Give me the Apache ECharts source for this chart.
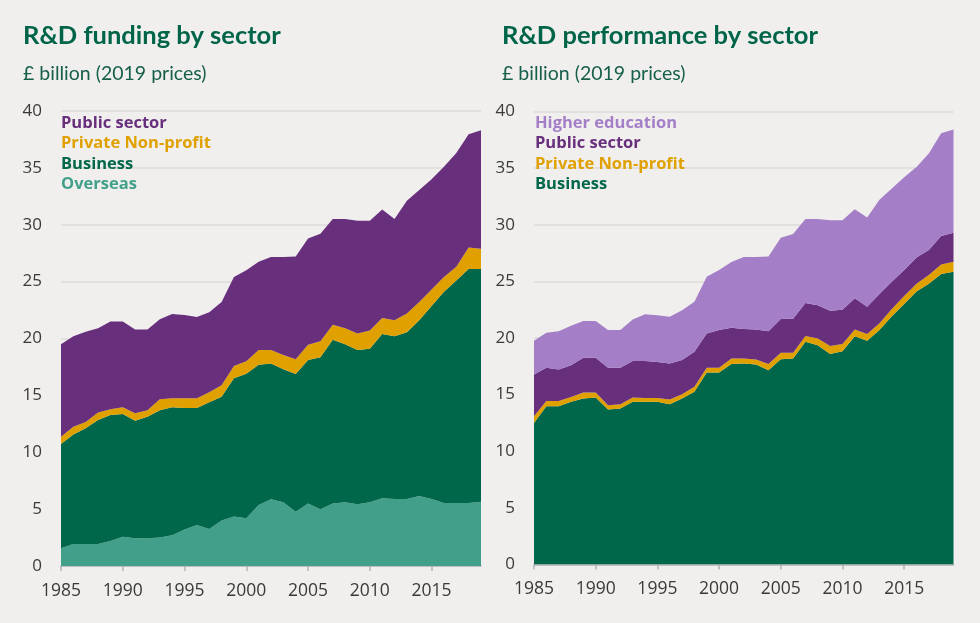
<!DOCTYPE html>
<html>
<head>
<meta charset="utf-8">
<script src="https://cdn.jsdelivr.net/npm/echarts@6/dist/echarts.min.js"></script>
<style>
html,body{margin:0;padding:0;background:#F0EFED;}
#c{width:980px;height:623px;}
</style>
</head>
<body>
<div id="c"></div>
<script>
const years = [];
for (let y = 1985; y <= 2019; y++) years.push(String(y));

// Left chart: R&D funding by sector (£ billion, 2019 prices)
const fundOverseas = [1.56,1.93,1.93,1.93,2.2,2.58,2.43,2.43,2.5,2.7,3.2,3.6,3.25,4.0,4.35,4.2,5.36,5.86,5.6,4.78,5.5,5.0,5.5,5.6,5.42,5.6,5.95,5.9,5.9,6.15,5.9,5.54,5.54,5.54,5.65];
const fundBusiness = [9.17,9.64,10.17,10.9,11.07,10.78,10.34,10.7,11.2,11.25,10.7,10.3,11.15,10.88,12.15,12.7,12.34,11.94,11.7,12.1,12.6,13.35,14.4,13.9,13.58,13.5,14.45,14.3,14.65,15.45,16.96,18.56,19.56,20.56,20.45];
const fundPNP = [0.64,0.68,0.56,0.67,0.5,0.59,0.65,0.57,0.95,0.79,0.85,0.85,0.87,1.02,1.08,1.1,1.3,1.2,1.25,1.29,1.35,1.4,1.3,1.4,1.45,1.6,1.4,1.4,1.65,1.6,1.44,1.3,1.2,1.9,1.8];
const fundPublic = [8.13,7.95,7.94,7.4,7.73,7.55,7.38,7.1,7.05,7.41,7.32,7.15,7.03,7.3,7.82,8.0,7.75,8.16,8.61,9.03,9.35,9.45,9.3,9.6,9.91,9.66,9.55,8.9,9.9,9.85,9.7,9.7,10.0,9.95,10.4];

// Right chart: R&D performance by sector
const perfBusiness = [12.5,13.98,13.98,14.37,14.66,14.75,13.69,13.78,14.37,14.37,14.37,14.16,14.66,15.25,16.96,16.96,17.7,17.75,17.67,17.16,18.13,18.2,19.66,19.37,18.58,18.84,20.15,19.75,20.7,21.93,23.0,24.1,24.8,25.65,25.85];
const perfPNP = [0.6,0.45,0.45,0.43,0.53,0.44,0.38,0.38,0.38,0.33,0.33,0.41,0.38,0.44,0.41,0.41,0.5,0.45,0.43,0.54,0.57,0.5,0.51,0.59,0.72,0.62,0.6,0.6,0.6,0.62,0.7,0.7,0.76,0.85,0.88];
const perfPublic = [3.68,2.94,2.79,2.8,3.06,3.06,3.3,3.21,3.21,3.26,3.17,3.18,3.01,3.09,3.03,3.33,2.7,2.6,2.65,2.9,2.97,3.0,2.93,2.94,3.1,3.04,2.75,2.41,2.58,2.42,2.3,2.3,2.21,2.5,2.57];
const perfHigherEd = [2.97,3.09,3.38,3.48,3.25,3.25,3.33,3.33,3.68,4.14,4.13,4.12,4.41,4.42,5.0,5.3,5.8,6.35,6.4,6.6,7.19,7.48,7.4,7.6,8.0,7.9,7.86,7.89,8.32,8.23,8.2,8.0,8.53,9.07,9.1];

const yTicks = {min: 0, max: 40, interval: 5};

const C = {
  public: '#682F7C',
  pnp: '#E0A100',
  business: '#00674A',
  overseas: '#42A08A',
  higher: '#A47FC8'
};

const titleGreen = '#006548';
const labelColor = '#3a3a3a';
const font = '"Open Sans", sans-serif';

function xAxis(gi) {
  return {
    type: 'category', gridIndex: gi, data: years, boundaryGap: false,
    axisLine: {lineStyle: {color: '#b4b4b4', width: 1.5}},
    axisTick: {length: 5, interval: (i) => i % 5 === 0, lineStyle: {color: '#b4b4b4', width: 1.5}},
    axisLabel: {interval: (i) => i % 5 === 0, color: labelColor, fontSize: 17.5, fontFamily: font, margin: 16},
    splitLine: {show: false}
  };
}
function yAxis(gi) {
  return {
    type: 'value', gridIndex: gi, min: yTicks.min, max: yTicks.max, interval: yTicks.interval,
    axisLine: {show: false}, axisTick: {show: false},
    axisLabel: {color: labelColor, fontSize: 17, fontFamily: font, margin: 19},
    splitLine: {lineStyle: {color: '#dcdbd9', width: 1.5}}
  };
}
function area(name, data, color, gi, stack) {
  return {
    name, type: 'line', data, xAxisIndex: gi, yAxisIndex: gi, stack,
    symbol: 'none', showSymbol: false, lineStyle: {width: 0}, itemStyle: {color},
    areaStyle: {color, opacity: 1}, emphasis: {disabled: true}
  };
}
function legend(left, items) {
  return {
    orient: 'vertical', left, top: 108, itemWidth: 0, itemHeight: 0, itemGap: 0,
    selectedMode: false, icon: 'rect',
    data: items.map(([n, c]) => ({name: n, textStyle: {color: c}})),
    textStyle: {fontSize: 16.5, fontWeight: 'bold', fontFamily: font, lineHeight: 20.5, padding: 0}
  };
}

const chart = echarts.init(document.getElementById('c'), null, {renderer: 'canvas'});
chart.setOption({
  animation: false,
  backgroundColor: '#F0EFED',
  title: [
    {text: 'R&D funding by sector', subtext: '£ billion (2019 prices)', left: 18, top: 18,
     textStyle: {color: titleGreen, fontSize: 25.5, fontWeight: 'bold', fontFamily: 'Lato'},
     subtextStyle: {color: '#165f4b', fontSize: 19.5, fontFamily: 'Lato'}, itemGap: 15},
    {text: 'R&D performance by sector', subtext: '£ billion (2019 prices)', left: 497, top: 18,
     textStyle: {color: titleGreen, fontSize: 25.5, fontWeight: 'bold', fontFamily: 'Lato'},
     subtextStyle: {color: '#165f4b', fontSize: 19.5, fontFamily: 'Lato'}, itemGap: 15}
  ],
  legend: [
    legend(51, [['Public sector', C.public], ['Private Non-profit', C.pnp], ['Business', C.business], ['Overseas', C.overseas]]),
    legend(525, [['Higher education', C.higher], ['Public sector', C.public], ['Private Non-profit', C.pnp], ['Business', C.business]])
  ],
  grid: [
    {left: 61, top: 111, width: 420, height: 455},
    {left: 534, top: 111.5, width: 419.5, height: 453}
  ],
  xAxis: [xAxis(0), xAxis(1)],
  yAxis: [yAxis(0), yAxis(1)],
  series: [
    area('Overseas', fundOverseas, C.overseas, 0, 'L'),
    area('Business', fundBusiness, C.business, 0, 'L'),
    area('Private Non-profit', fundPNP, C.pnp, 0, 'L'),
    area('Public sector', fundPublic, C.public, 0, 'L'),
    area('Business', perfBusiness, C.business, 1, 'R'),
    area('Private Non-profit', perfPNP, C.pnp, 1, 'R'),
    area('Public sector', perfPublic, C.public, 1, 'R'),
    area('Higher education', perfHigherEd, C.higher, 1, 'R')
  ]
});
</script>
</body>
</html>
